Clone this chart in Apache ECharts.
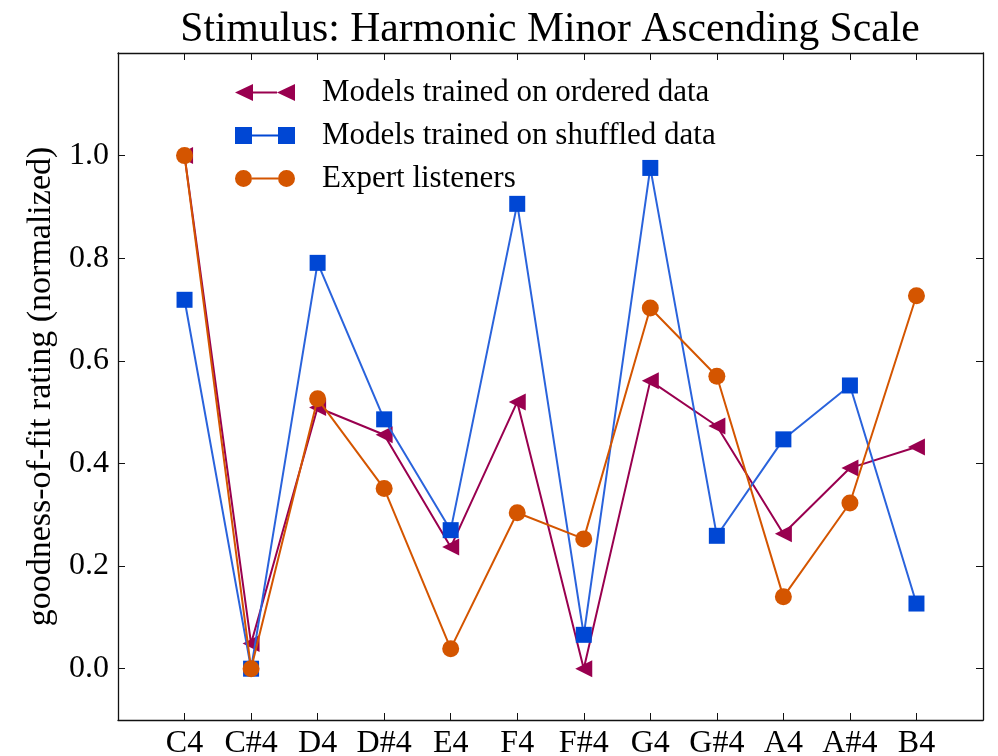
<!DOCTYPE html>
<html><head><meta charset="utf-8">
<script src="https://cdn.jsdelivr.net/npm/echarts@6/dist/echarts.min.js"></script>
<style>html,body{margin:0;padding:0;background:#fff}#c{width:998px;height:756px}</style>
</head><body><div id="c"></div>
<script>
const categories = ['C4','C#4','D4','D#4','E4','F4','F#4','G4','G#4','A4','A#4','B4'];
const orderedValues = [1.0,0.049,0.509,0.456,0.237,0.520,0.0,0.561,0.473,0.263,0.391,0.432];
const shuffledValues = [0.719,0.0,0.791,0.486,0.270,0.906,0.066,0.976,0.259,0.447,0.552,0.127];
const expertValues = [1.0,0.0,0.526,0.351,0.039,0.304,0.253,0.703,0.570,0.140,0.323,0.727];
const yTickValues = [0,0.2,0.4,0.6,0.8,1.0];
const titleText = 'Stimulus: Harmonic Minor Ascending Scale';
const yAxisName = 'goodness-of-fit rating (normalized)';
const seriesNames = ['Models trained on ordered data','Models trained on shuffled data','Expert listeners'];

const FONT = '"Liberation Serif","Times New Roman",serif';
const xIdx = categories.map((_, i) => i);
const pairs = vals => vals.map((v, i) => [i, v]);

const colOrdered = '#99004f', colShuffled = '#0047d4', colShuffledLine = '#2a63dc', colExpert = '#d45500';

const iconTri = 'path://M0,8.5L18,0L18,17Z M18,7.5H42V9.5H18Z M42,8.5L60,0L60,17Z';
const iconSq = 'path://M0,0H17V17H0Z M17,7.5H43V9.5H17Z M43,0H60V17H43Z';
const iconCirc = 'path://M0,8.5A8.5,8.5 0 1,1 17,8.5A8.5,8.5 0 1,1 0,8.5Z M17,7.5H43V9.5H17Z M43,8.5A8.5,8.5 0 1,1 60,8.5A8.5,8.5 0 1,1 43,8.5Z';

const axisLine = {show: true, onZero: false, lineStyle: {color: '#111', width: 1.3}};
const tickStyle = {show: true, inside: true, length: 7, lineStyle: {color: '#111', width: 1}};

const chart = echarts.init(document.getElementById('c'), null, {renderer: 'canvas'});
chart.setOption({
  animation: false,
  backgroundColor: '#fff',
  title: {
    text: titleText, left: 545, textAlign: 'center', top: 4,
    textStyle: {fontFamily: FONT, fontSize: 41.6, fontWeight: 'normal', color: '#000'}
  },
  legend: {
    orient: 'vertical', left: 230, top: 72, itemWidth: 60, itemHeight: 17, itemGap: 12,
    textStyle: {fontFamily: FONT, fontSize: 31, lineHeight: 31, color: '#000', padding: [0, 0, 0, 22]},
    data: [
      {name: seriesNames[0], icon: iconTri, itemStyle: {color: colOrdered}},
      {name: seriesNames[1], icon: iconSq, itemStyle: {color: colShuffled}},
      {name: seriesNames[2], icon: iconCirc, itemStyle: {color: colExpert}}
    ]
  },
  grid: {left: 118, right: 15, top: 53, bottom: 36, containLabel: false, outerBoundsMode: 'none'},
  xAxis: [
    {type: 'value', min: -1, max: 12, position: 'bottom',
     axisLine: axisLine, splitLine: {show: false},
     axisTick: Object.assign({}, tickStyle, {customValues: xIdx}),
     axisLabel: {customValues: xIdx, formatter: v => categories[v] || '', margin: 8,
                 fontFamily: FONT, fontSize: 32, color: '#000'}},
    {type: 'value', min: -1, max: 12, position: 'top',
     axisLine: axisLine, splitLine: {show: false},
     axisTick: Object.assign({}, tickStyle, {customValues: xIdx}),
     axisLabel: {show: false}}
  ],
  yAxis: [
    {type: 'value', min: -0.1, max: 1.2, position: 'left',
     axisLine: axisLine, splitLine: {show: false},
     axisTick: Object.assign({}, tickStyle, {customValues: yTickValues}),
     axisLabel: {customValues: yTickValues, formatter: v => v.toFixed(1), margin: 9,
                 fontFamily: FONT, fontSize: 32, color: '#000'},
     name: yAxisName, nameLocation: 'middle', nameRotate: 90, nameGap: 50,
     nameTextStyle: {fontFamily: FONT, fontSize: 34, color: '#000'}},
    {type: 'value', min: -0.1, max: 1.2, position: 'right',
     axisLine: axisLine, splitLine: {show: false},
     axisTick: Object.assign({}, tickStyle, {customValues: yTickValues}),
     axisLabel: {show: false}}
  ],
  series: [
    {name: seriesNames[0], type: 'line', data: pairs(orderedValues),
     symbol: 'triangle', symbolRotate: 90, symbolSize: 17,
     itemStyle: {color: colOrdered}, lineStyle: {color: colOrdered, width: 2}, z: 2},
    {name: seriesNames[1], type: 'line', data: pairs(shuffledValues),
     symbol: 'rect', symbolSize: 16,
     itemStyle: {color: colShuffled}, lineStyle: {color: colShuffledLine, width: 2}, z: 3},
    {name: seriesNames[2], type: 'line', data: pairs(expertValues),
     symbol: 'circle', symbolSize: 17,
     itemStyle: {color: colExpert}, lineStyle: {color: colExpert, width: 2}, z: 4}
  ]
});
</script></body></html>
